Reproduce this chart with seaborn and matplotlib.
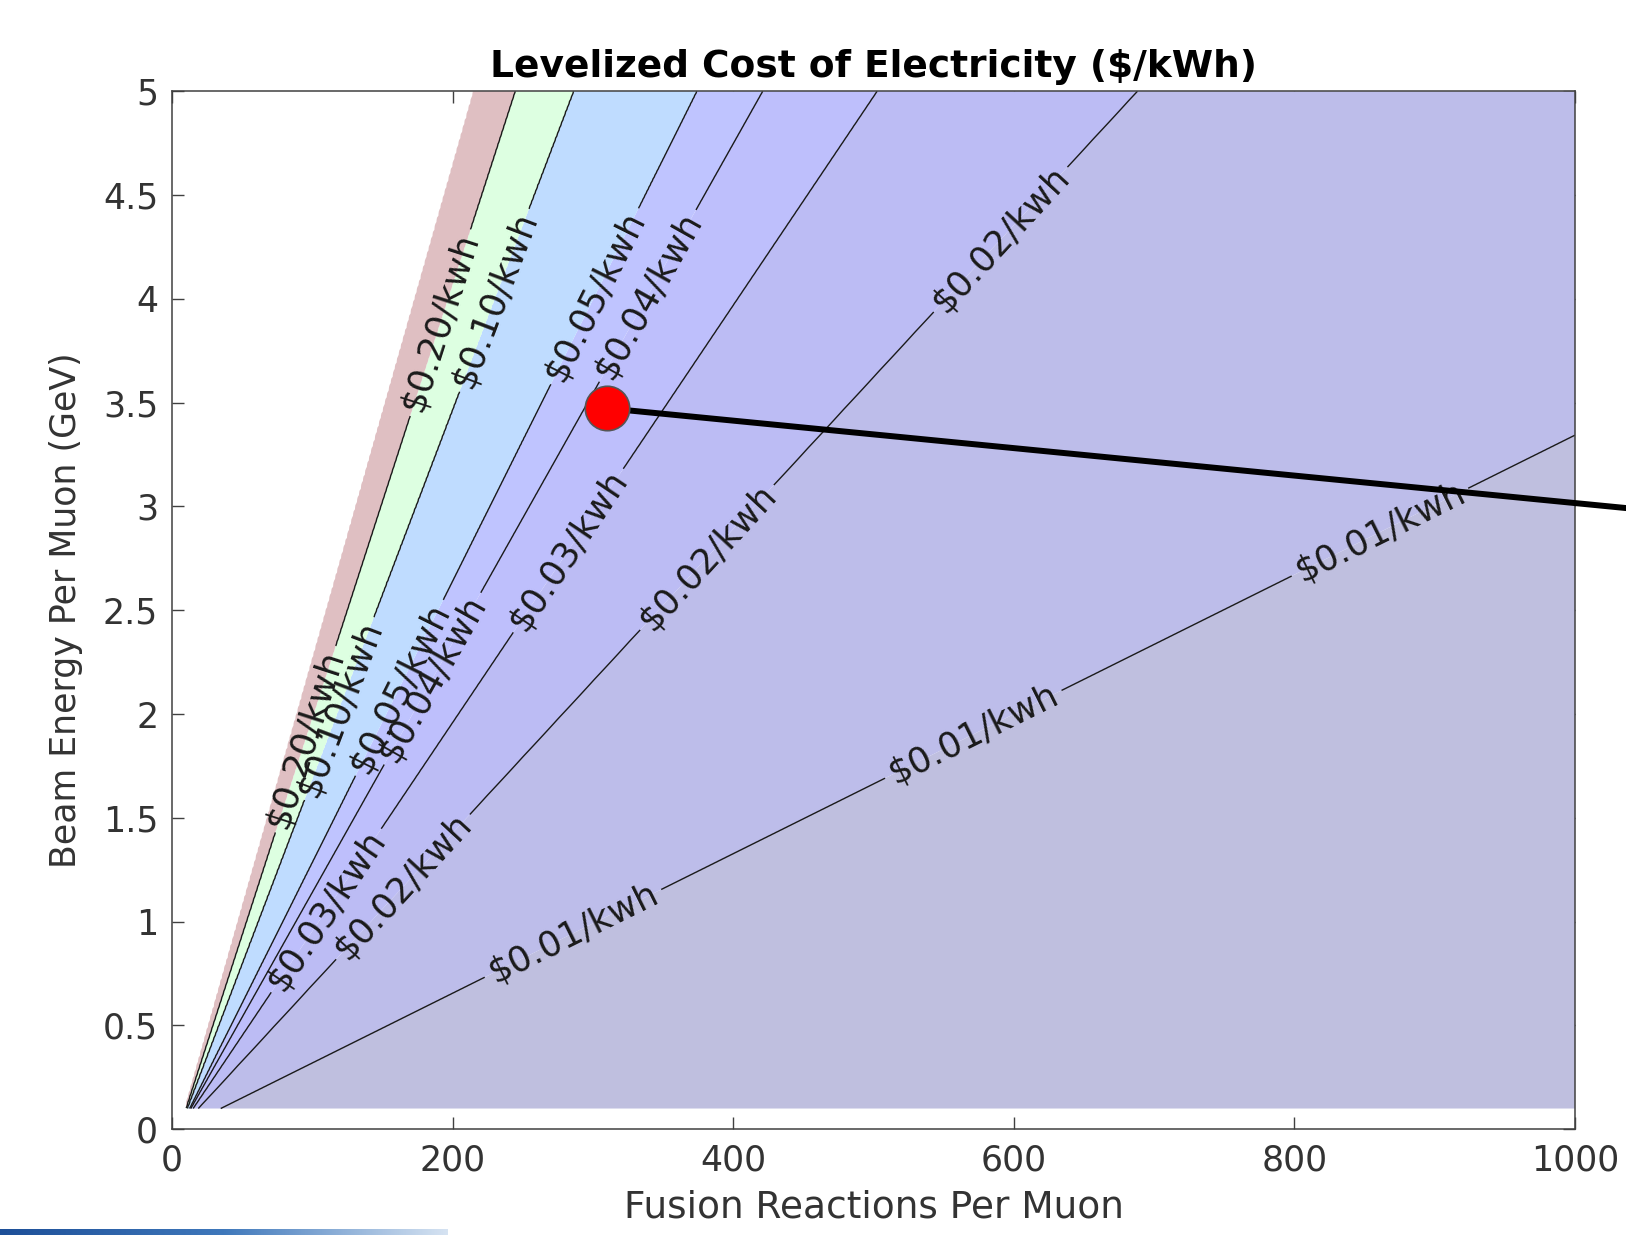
import numpy as np
import matplotlib
matplotlib.use('Agg')
import matplotlib.pyplot as plt
import seaborn as sns
from matplotlib.colors import LinearSegmentedColormap
from matplotlib.ticker import FuncFormatter

# contour levels ($/kWh) and the beam energy per fusion (GeV) along each line
cost_levels = [0.01, 0.02, 0.03, 0.04, 0.05, 0.10, 0.20]
gev_per_fusion = [0.00336, 0.00732, 0.01005, 0.01202, 0.01355, 0.01779, 0.02088]
# past this the plant makes no net power -> white area
cutoff_cost = 0.40
cutoff_gev_per_fusion = 0.0238
pivot_fusions = 5.0

fusions_range = [10, 1000]
energy_range = [0.1, 5.0]

# design point and the pointer line leaving the plot
point_fusions = [310]
point_energy = [3.473]
pointer_fusions = [310, 1040]
pointer_energy = [3.473, 2.99]

# where the inline labels sit (data coords)
label_spots = [
    (188, 3.89), (91.6, 1.89),            # 0.20
    (230.6, 3.99), (113.8, 2.04),         # 0.10
    (298.6, 4.02), (150.8, 2.17),         # 0.05
    (337.8, 4.02), (180, 2.19),           # 0.04
    (282, 2.79), (106, 1.07),             # 0.03
    (598, 4.24), (383.6, 2.74), (169, 1.14),  # 0.02
    (860, 2.89), (572, 1.89), (284, 0.97),    # 0.01
]

band_colors = ['#bfbfdf', '#bdbdea', '#bcbcf4', '#bebffc', '#bfc4ff',
               '#bfdcff', '#ddffe1', '#dfbfc2']

sns.set_theme(style="ticks")
plt.rcParams['font.family'] = ['DejaVu Sans']
plt.rcParams['xtick.direction'] = 'in'
plt.rcParams['ytick.direction'] = 'in'
plt.rcParams['xtick.top'] = True
plt.rcParams['ytick.right'] = True

fig = plt.figure(figsize=(16.26, 12.35), dpi=100)
ax = fig.add_axes([0.1058, 0.0856, 0.8628, 0.8405])

# cost field from the measured line positions
xs = np.linspace(fusions_range[0], fusions_range[1], 700)
ys = np.linspace(energy_range[0], energy_range[1], 500)
X, Y = np.meshgrid(xs, ys)
ratio = Y / (X - pivot_fusions)
Z = np.interp(ratio,
              [0] + gev_per_fusion + [cutoff_gev_per_fusion, 1.0],
              [0] + cost_levels + [cutoff_cost, 10.0])

ax.contourf(X, Y, Z, levels=[0] + cost_levels + [cutoff_cost], colors=band_colors,
            antialiased=True)
cs = ax.contour(X, Y, Z, levels=cost_levels, colors='k', linewidths=1.0)

ax.set_xlim(0, 1000)
ax.set_ylim(0, 5)
ax.set_xticks(np.arange(0, 1001, 200))
ax.set_yticks(np.arange(0, 5.01, 0.5))
ax.yaxis.set_major_formatter(FuncFormatter(lambda v, p: f'{v:g}'))
ax.tick_params(axis='both', length=8.5, width=1.0, labelsize=25, pad=10,
               colors='#404040', labelcolor='#333333')
for s in ax.spines.values():
    s.set_color('#404040')
    s.set_linewidth(1.1)

ax.clabel(cs, fmt=lambda v: f'${v:.2f}/kwh', fontsize=25.5, inline=True,
          inline_spacing=6, manual=label_spots)

ax.plot(pointer_fusions, pointer_energy, color='black', lw=4.3, clip_on=False,
        zorder=6, solid_capstyle='butt')
sns.scatterplot(x=point_fusions, y=point_energy, s=32 ** 2, color='red',
                edgecolor='#555555', linewidth=1.2, zorder=7, ax=ax, clip_on=False)

ax.set_title('Levelized Cost of Electricity ($/kWh)', fontsize=27, fontweight='bold',
             pad=10, color='black')
ax.set_xlabel('Fusion Reactions Per Muon', fontsize=27, color='#333333', labelpad=9)
ax.set_ylabel('Beam Energy Per Muon (GeV)', fontsize=25, color='#333333', labelpad=14)

# slide footer strip
bar = fig.add_axes([0, 0, 0.275, 0.005])
bar_cmap = LinearSegmentedColormap.from_list('strip', ['#1d4f98', '#3f78bb', '#d6e3f2'])
bar.imshow(np.linspace(0, 1, 256)[None, :], aspect='auto', cmap=bar_cmap)
bar.axis('off')

fig.savefig('out.png', dpi=100, facecolor='white')
